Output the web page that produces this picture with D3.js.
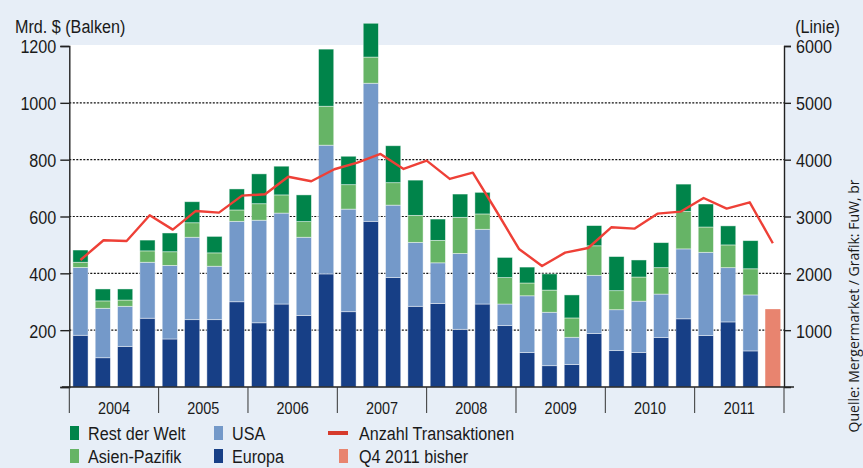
<!DOCTYPE html>
<html>
<head>
<meta charset="utf-8">
<script src="https://cdn.jsdelivr.net/npm/d3@7"></script>
<style>
  body { margin: 0; background: #e7eef7; }
  text { font-family: "Liberation Sans", Arial, sans-serif; fill: #1a1a1a; }
</style>
</head>
<body>
<script>
// quarters 2004Q1 .. 2011Q4
var years = ["2004", "2005", "2006", "2007", "2008", "2009", "2010", "2011"];
var quarters = [];
years.forEach(function(y) { [1, 2, 3, 4].forEach(function(q) { quarters.push(y + "Q" + q); }); });

// Mrd. $ per region, 2004Q1 .. 2011Q3
var europa = [182,103,143,242,169,237,237,300,226,292,252,398,265,583,385,284,294,203,292,216,121,75,79,188,128,121,174,240,181,229,127];
var usa    = [239,174,141,197,259,290,188,283,361,320,275,453,361,486,255,225,143,267,263,76,200,188,96,205,144,181,153,246,293,191,197];
var asien  = [18,26,22,40,48,51,47,40,58,64,55,137,86,92,79,95,79,127,54,93,45,78,68,104,67,85,93,132,89,80,92];
var rest   = [43,42,39,38,66,74,58,74,105,101,94,201,100,119,130,124,75,82,76,71,56,57,81,71,120,60,88,96,81,67,99];
var q4bisher = 274;

// Anzahl Transaktionen (Linie)
var anzahl = [2235,2582,2570,3022,2769,3098,3068,3367,3391,3700,3620,3831,3948,4101,3837,3983,3661,3772,3110,2429,2130,2364,2446,2810,2786,3050,3085,3326,3138,3250,2529];

var leftTicks = [0, 200, 400, 600, 800, 1000, 1200];
var rightTicks = [1000, 2000, 3000, 4000, 5000, 6000];

var colors = { rest: "#00844a", asien: "#66b466", usa: "#7499c9", europa: "#173f86", line: "#ee4037", q4: "#e8846f" };

var W = 863, H = 468,
    pL = 69.3, pR = 784, pT = 46, pB = 387,
    SX = 0.85; // horizontal squeeze for condensed look

var svg = d3.select("body").append("svg")
    .attr("width", W)
    .attr("height", H);

// text helper: narrow text via scaleX
function label(x, y, str, size, anchor) {
  return svg.append("text")
    .attr("transform", "translate(" + x + "," + y + ") scale(" + SX + ",1)")
    .attr("font-size", size)
    .attr("text-anchor", anchor || "start")
    .text(str);
}

svg.append("rect").attr("width", W).attr("height", H).attr("fill", "#e7eef7");
svg.append("rect")
    .attr("x", pL).attr("y", pT - 1)
    .attr("width", pR - pL).attr("height", pB - pT + 1)
    .attr("fill", "#fff");

var x = d3.scaleBand()
    .domain(quarters)
    .range([pL, pR])
    .paddingInner(0.32)
    .paddingOuter(0.16);
var y = d3.scaleLinear().domain([0, 1200]).range([pB, pT]);
var y2 = d3.scaleLinear().domain([0, 6000]).range([pB, pT]);

// line spans first bar to the Q4 bar
var xl = d3.scalePoint()
    .domain(quarters.slice(0, anzahl.length))
    .range([x(quarters[0]) + x.bandwidth() / 2, x(quarters[31]) + x.bandwidth() / 2]);

// dotted grid
svg.selectAll(".grid")
    .data(leftTicks.filter(function(d) { return d > 0 && d < 1200; }))
    .enter().append("line")
    .attr("x1", pL).attr("x2", pR)
    .attr("y1", function(d) { return y(d); })
    .attr("y2", function(d) { return y(d); })
    .attr("stroke", "#111")
    .attr("stroke-width", 1.1)
    .attr("stroke-dasharray", "2,1.5");

// stacked bars
var rows = europa.map(function(d, i) {
  return { q: quarters[i], europa: europa[i], usa: usa[i], asien: asien[i], rest: rest[i] };
});
var stack = d3.stack().keys(["europa", "usa", "asien", "rest"])(rows);

svg.selectAll(".layer")
    .data(stack)
    .enter().append("g")
    .attr("fill", function(d) { return colors[d.key]; })
    .selectAll("rect")
    .data(function(d) { return d; })
    .enter().append("rect")
    .attr("x", function(d) { return x(d.data.q); })
    .attr("width", x.bandwidth())
    .attr("y", function(d) { return y(d[1]); })
    .attr("height", function(d) { return y(d[0]) - y(d[1]); })
    .attr("stroke", "rgba(255,255,255,0.55)")
    .attr("stroke-width", 0.8);

svg.append("rect")
    .attr("x", x(quarters[31]))
    .attr("width", x.bandwidth())
    .attr("y", y(q4bisher))
    .attr("height", pB - y(q4bisher))
    .attr("fill", colors.q4);

// line
svg.append("path")
    .datum(anzahl)
    .attr("fill", "none")
    .attr("stroke", colors.line)
    .attr("stroke-width", 2.4)
    .attr("stroke-linejoin", "round")
    .attr("d", d3.line()
      .x(function(d, i) { return xl(quarters[i]); })
      .y(function(d) { return y2(d); }));

// axes
var axisL = svg.append("g")
    .attr("transform", "translate(" + pL + ",0)")
    .call(d3.axisLeft(y).tickValues(leftTicks).tickSize(9).tickPadding(4).tickFormat(d3.format("d")));
axisL.selectAll(".tick").filter(function(d) { return d === 0; }).select("text").remove();

var axisR = svg.append("g")
    .attr("transform", "translate(" + pR + ",0)")
    .call(d3.axisRight(y2).tickValues(rightTicks).tickSize(7).tickPadding(5).tickFormat(d3.format("d")));

[axisL, axisR].forEach(function(a) {
  a.select(".domain").attr("stroke", "#222").attr("stroke-width", 1.4);
  a.selectAll(".tick line").attr("stroke", "#222").attr("stroke-width", 1.4);
  a.selectAll(".tick text")
    .attr("font-size", 19)
    .attr("font-family", "'Liberation Sans', Arial, sans-serif")
    .attr("fill", "#1a1a1a")
    .attr("dy", "0.36em")
    .attr("x", function() { return +d3.select(this).attr("x") / SX; })
    .attr("transform", "scale(" + SX + ",1)");
});

// x axis with year bands
var xYear = d3.scaleBand().domain(years).range([pL, pR]);
svg.append("line")
    .attr("x1", 62).attr("x2", 794)
    .attr("y1", pB).attr("y2", pB)
    .attr("stroke", "#222").attr("stroke-width", 1.4);
svg.selectAll(".ysep")
    .data(years.concat(["end"]))
    .enter().append("line")
    .attr("x1", function(d, i) { return pL + i * xYear.bandwidth(); })
    .attr("x2", function(d, i) { return pL + i * xYear.bandwidth(); })
    .attr("y1", pB).attr("y2", pB + 26)
    .attr("stroke", "#333").attr("stroke-width", 1);
years.forEach(function(d) {
  label(xYear(d) + xYear.bandwidth() / 2, 414, d, 17, "middle");
});

// axis titles
label(15, 33, "Mrd. $ (Balken)", 19);
label(840, 33, "(Linie)", 19, "end");

// legend
var legend = [
  { label: "Rest der Welt", color: colors.rest, x: 70, y: 433, type: "box" },
  { label: "USA", color: colors.usa, x: 214, y: 433, type: "box" },
  { label: "Anzahl Transaktionen", color: "#d63a2c", x: 328, y: 433, type: "line" },
  { label: "Asien-Pazifik", color: colors.asien, x: 70, y: 456, type: "box" },
  { label: "Europa", color: colors.europa, x: 214, y: 456, type: "box" },
  { label: "Q4 2011 bisher", color: colors.q4, x: 339, y: 456, type: "box" }
];
legend.forEach(function(d) {
  if (d.type === "box") {
    svg.append("rect").attr("x", d.x).attr("y", d.y - 7).attr("width", 9).attr("height", 14).attr("fill", d.color);
  } else {
    svg.append("rect").attr("x", d.x).attr("y", d.y - 2).attr("width", 20).attr("height", 4).attr("fill", d.color);
  }
  var tx = d.type === "line" ? d.x + 31 : (d.x > 300 ? d.x + 20 : d.x + 18);
  label(tx, d.y + 7, d.label, 19);
});

// source
svg.append("text")
    .attr("transform", "translate(859,306) rotate(-90)")
    .attr("text-anchor", "middle")
    .attr("font-size", 14)
    .style("font-family", "'Open Sans', sans-serif")
    .text("Quelle: Mergermarket / Grafik: FuW, br");
</script>
</body>
</html>
